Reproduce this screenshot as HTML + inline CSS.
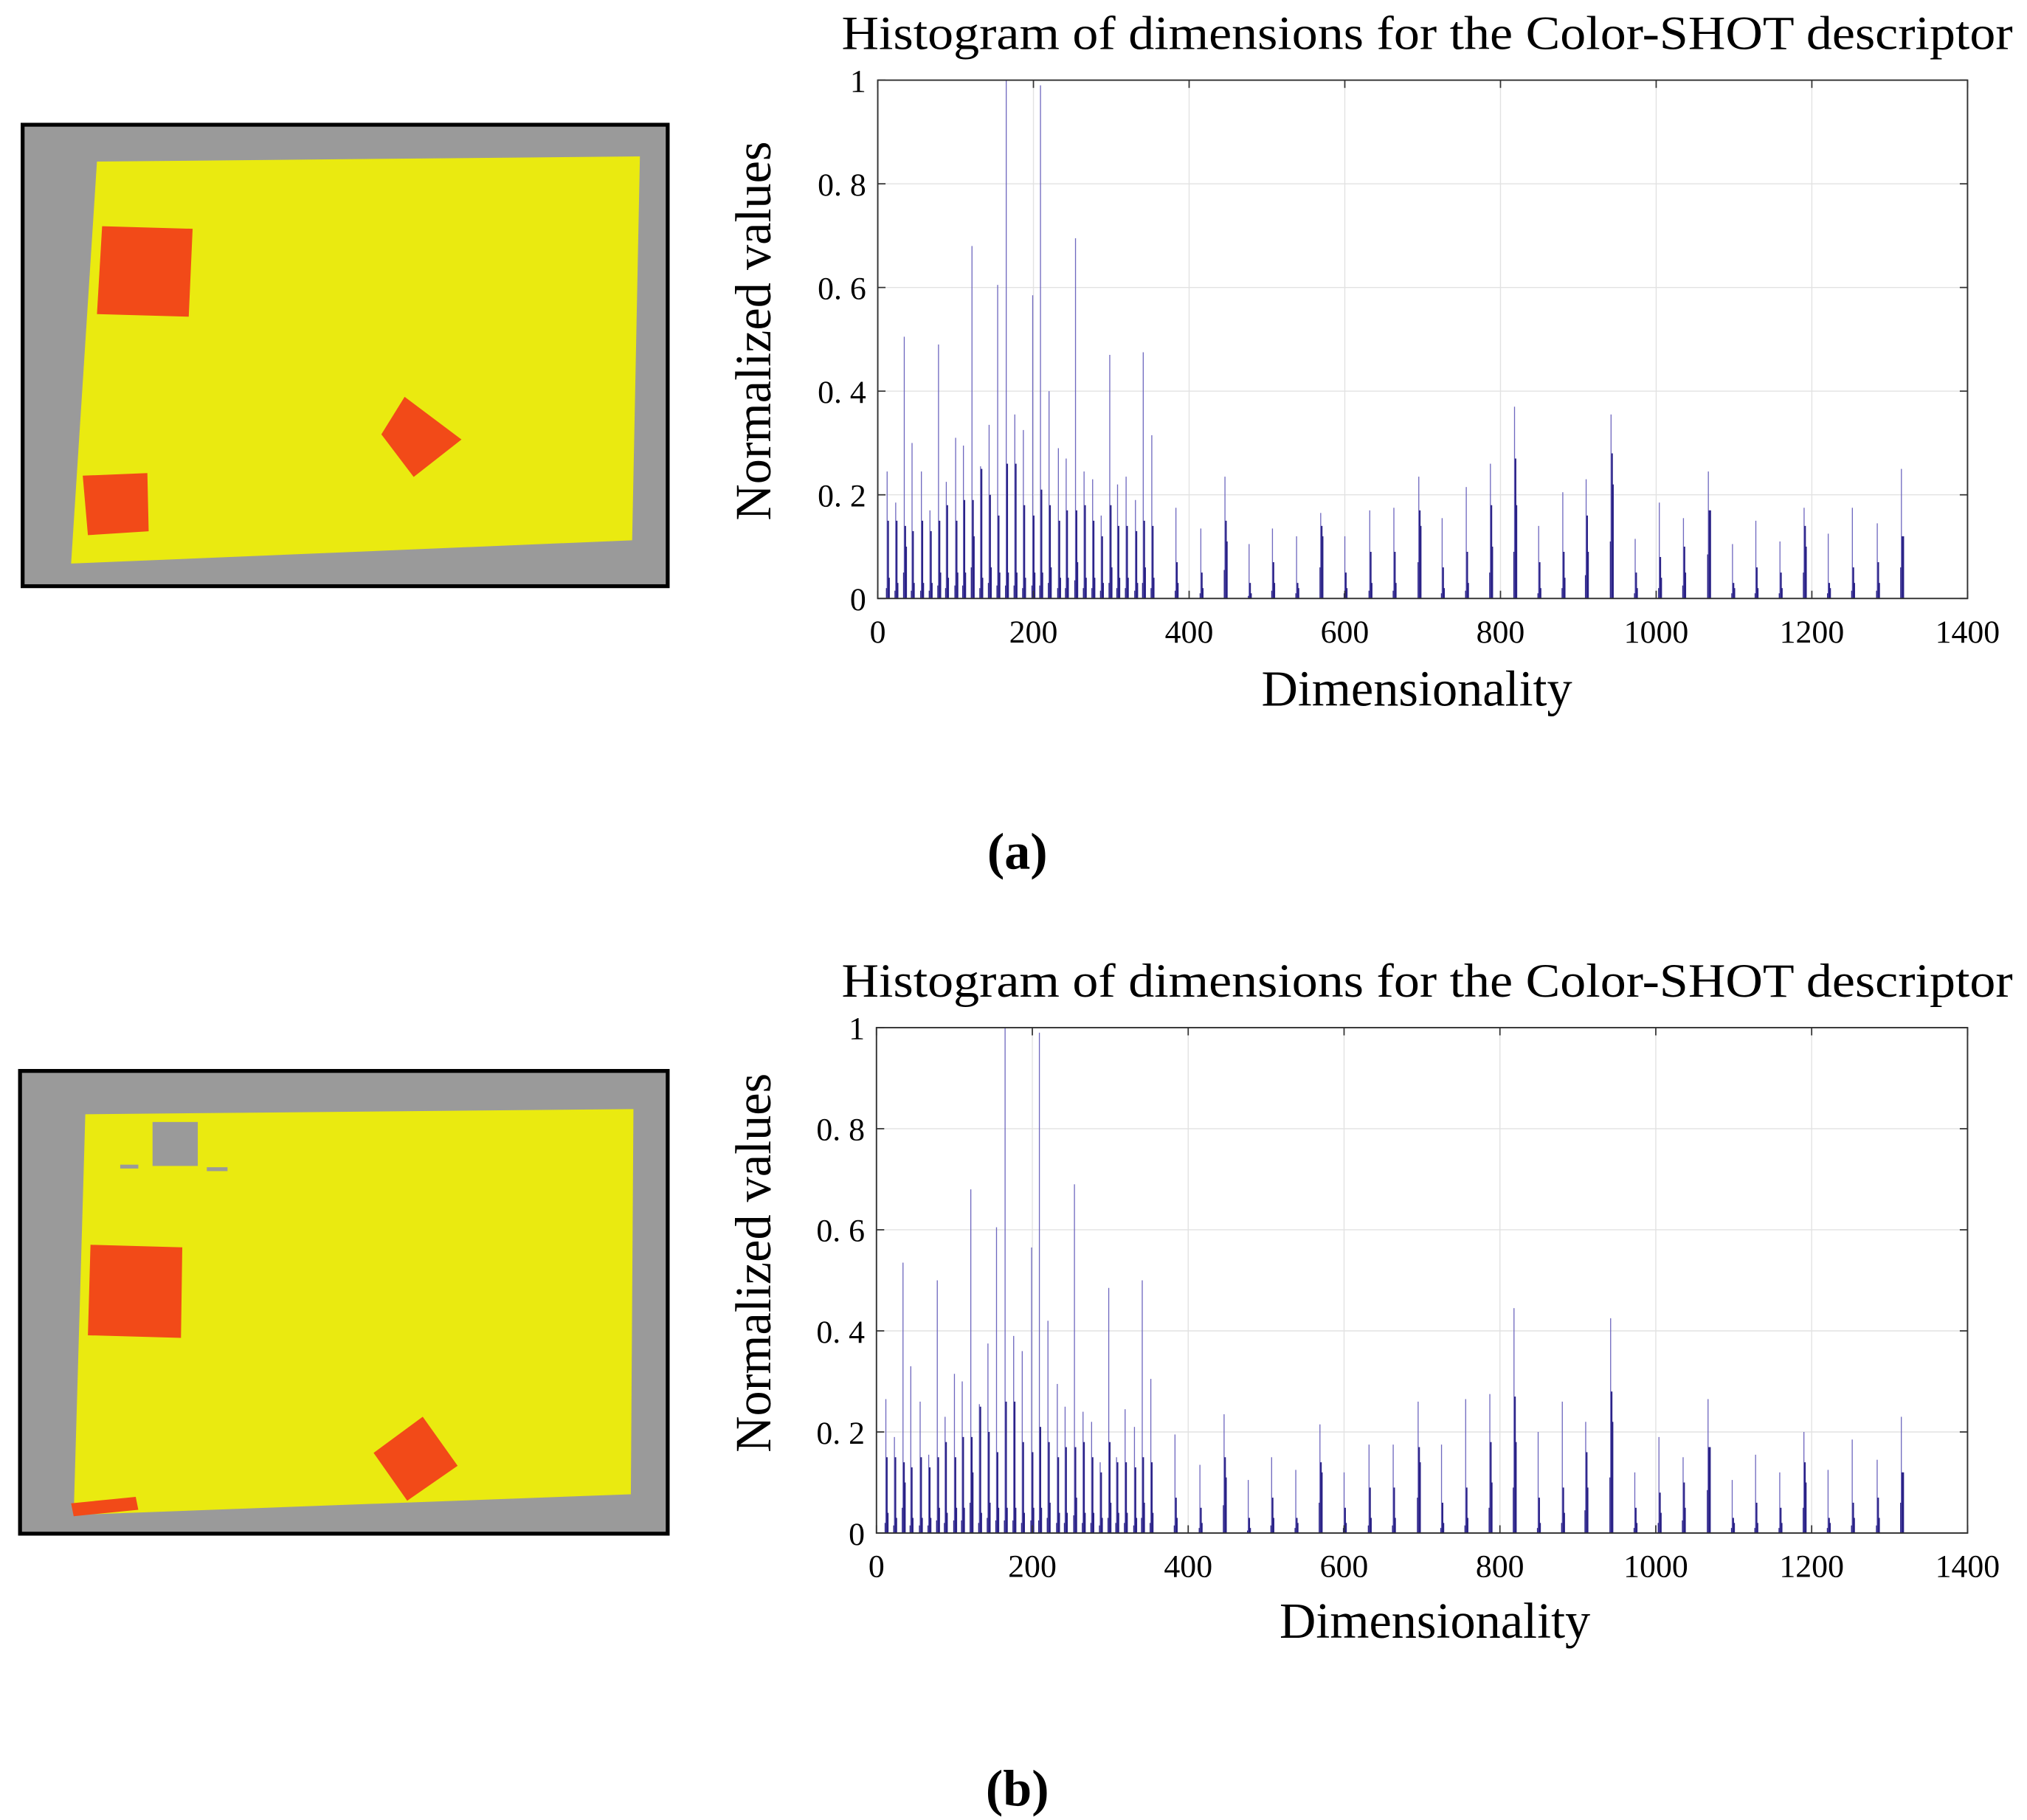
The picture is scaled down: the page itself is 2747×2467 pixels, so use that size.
<!DOCTYPE html>
<html><head><meta charset="utf-8">
<style>
html,body{margin:0;padding:0;background:#fff;}
svg{display:block;}
text{font-family:"Liberation Serif","Noto Serif CJK SC",serif;fill:#000;}
</style></head>
<body>
<svg id="fig" width="2747" height="2467" viewBox="0 0 1568 1408" preserveAspectRatio="none">
  <g>
    <rect x="17.5" y="96.5" width="499" height="357" fill="#9a9a9a" stroke="#000" stroke-width="3"/>
    <polygon points="75,125 495,121 489,418 55,436" fill="#eaea10"/>
    <polygon points="79,175 149,177 146,245 75,243" fill="#f24a18"/>
    <polygon points="313,307 357,340 320,369 295,336" fill="#f24a18"/>
    <polygon points="64,368 114,366 115,411 68,414" fill="#f24a18"/>
  </g>
  <g>
    <rect x="15.5" y="828.5" width="501" height="358" fill="#9a9a9a" stroke="#000" stroke-width="3"/>
    <polygon points="66,862 490,858 488,1156 57,1172" fill="#eaea10"/>
    <rect x="118" y="868" width="35" height="34" fill="#9a9a9a"/>
    <rect x="93" y="901" width="14" height="3" fill="#9a9a9a"/>
    <rect x="160" y="903" width="16" height="3" fill="#9a9a9a"/>
    <polygon points="70,963 141,965 140,1035 68,1033" fill="#f24a18"/>
    <polygon points="327,1096 354,1134 315,1161 289,1124" fill="#f24a18"/>
    <polygon points="55,1163 105,1158 107,1168 57,1173" fill="#f24a18"/>
  </g>
  <g id="chartA"></g>
  <g id="chartB"></g>
  <text x="787" y="672" font-size="40" font-weight="bold" text-anchor="middle">(a)</text>
  <text x="787" y="1397" font-size="40" font-weight="bold" text-anchor="middle">(b)</text>
</svg>
<script>
const xTicks = [0,200,400,600,800,1000,1200,1400];
const yTicks = [0,0.2,0.4,0.6,0.8,1];
const yTickLabels = ["0","0. 2","0. 4","0. 6","0. 8","1"];
const peakDims = [12,23,34,44,56,67,78,88,100,110,121,132,143,154,165,176,187,199,209,220,232,242,254,265,276,287,298,308,319,331,341,352,
  383,415,446,477,507,538,569,600,632,663,695,725,756,787,818,849,880,910,942,973,1004,1035,1067,1098,1128,1159,1190,1221,1252,1284,1315];
const peaksA = [0.245,0.185,0.505,0.30,0.245,0.17,0.49,0.225,0.31,0.295,0.68,0.255,0.335,0.605,1.0,0.355,0.325,0.585,0.99,0.40,0.29,0.27,0.695,0.245,0.23,0.16,0.47,0.22,0.235,0.19,0.475,0.315,
  0.175,0.135,0.235,0.105,0.135,0.12,0.165,0.12,0.17,0.175,0.235,0.155,0.215,0.26,0.37,0.14,0.205,0.23,0.355,0.115,0.185,0.155,0.245,0.105,0.15,0.11,0.175,0.125,0.175,0.145,0.25];
const sec1A = [0.15,0.15,0.14,0.13,0.15,0.13,0.15,0.18,0.15,0.19,0.19,0.25,0.20,0.16,0.26,0.26,0.18,0.16,0.21,0.18,0.15,0.17,0.17,0.18,0.15,0.12,0.18,0.14,0.14,0.13,0.15,0.14,
  0.07,0.05,0.15,0.03,0.07,0.03,0.14,0.05,0.09,0.09,0.17,0.06,0.09,0.18,0.27,0.07,0.09,0.16,0.28,0.05,0.08,0.10,0.17,0.03,0.06,0.05,0.14,0.03,0.06,0.07,0.12];
const sec2A = [0.04,0.03,0.10,0.03,0.03,0.03,0.05,0.04,0.05,0.05,0.12,0.04,0.06,0.05,0.05,0.05,0.04,0.05,0.05,0.06,0.04,0.04,0.07,0.04,0.04,0.03,0.06,0.04,0.04,0.03,0.06,0.04,
  0.03,0.02,0.11,0.01,0.03,0.02,0.12,0.02,0.03,0.03,0.14,0.02,0.03,0.10,0.18,0.02,0.04,0.09,0.22,0.02,0.04,0.05,0.17,0.02,0.02,0.02,0.10,0.02,0.03,0.03,0.12];
const peaksB = [0.265,0.19,0.535,0.33,0.26,0.155,0.50,0.23,0.315,0.30,0.68,0.255,0.375,0.605,1.0,0.39,0.36,0.565,0.99,0.42,0.295,0.25,0.69,0.24,0.22,0.14,0.485,0.15,0.245,0.21,0.50,0.305,
  0.195,0.135,0.235,0.105,0.15,0.125,0.215,0.12,0.175,0.175,0.26,0.175,0.265,0.275,0.445,0.20,0.26,0.22,0.425,0.12,0.19,0.15,0.265,0.105,0.155,0.12,0.20,0.125,0.185,0.145,0.23];
const sec1B = [0.15,0.15,0.14,0.13,0.15,0.13,0.15,0.18,0.15,0.19,0.19,0.25,0.20,0.16,0.26,0.26,0.18,0.16,0.21,0.18,0.15,0.17,0.17,0.18,0.15,0.12,0.18,0.14,0.14,0.13,0.15,0.14,
  0.07,0.05,0.15,0.03,0.07,0.03,0.14,0.05,0.09,0.09,0.17,0.06,0.09,0.18,0.27,0.07,0.09,0.16,0.28,0.05,0.08,0.10,0.17,0.03,0.06,0.05,0.14,0.03,0.06,0.07,0.12];
const sec2B = [0.04,0.03,0.10,0.03,0.03,0.03,0.05,0.04,0.05,0.05,0.12,0.04,0.06,0.05,0.05,0.05,0.04,0.05,0.05,0.06,0.04,0.04,0.07,0.04,0.04,0.03,0.06,0.04,0.04,0.03,0.06,0.04,
  0.03,0.02,0.11,0.01,0.03,0.02,0.12,0.02,0.03,0.03,0.14,0.02,0.03,0.10,0.18,0.02,0.04,0.09,0.22,0.02,0.04,0.05,0.17,0.02,0.02,0.02,0.10,0.02,0.03,0.03,0.12];

const NS = "http://www.w3.org/2000/svg";
function mk(tag, attrs, parent){ const e=document.createElementNS(NS,tag); for(const k in attrs) e.setAttribute(k,attrs[k]); parent.appendChild(e); return e; }

function drawChart(g, L, T, R, B, peaks, s1, s2, titleY, xlabX, xlabY, ylabY){
  const xS = d => L + (d/1400)*(R-L);
  const yS = v => B - v*(B-T);
  xTicks.forEach(t=>{ if(t>0&&t<1400){ const l=mk('line',{x1:xS(t),x2:xS(t),y1:T,y2:B,stroke:'#e2e2e2','stroke-width':0.8},g);
      }});
  yTicks.forEach(t=>{ if(t>0&&t<1){ const l=mk('line',{x1:L,x2:R,y1:yS(t),y2:yS(t),stroke:'#e2e2e2','stroke-width':0.8},g);
      }});
  peakDims.forEach((d,i)=>{
    const b1=mk('rect',{x:xS(d)-0.35,y:yS(peaks[i]),width:0.75,height:B-yS(peaks[i]),fill:'#6f68bf'},g);
     
    const b2=mk('rect',{x:xS(d+1)-0.4,y:yS(s1[i]),width:1.2,height:B-yS(s1[i]),fill:'#2a2286'},g);
     
    const b3=mk('rect',{x:xS(d+2)-0.3,y:yS(s2[i]),width:1.2,height:B-yS(s2[i]),fill:'#2a2286'},g);
     
    const b4=mk('rect',{x:xS(d-1)-0.3,y:yS(s2[i]*0.5),width:0.8,height:B-yS(s2[i]*0.5),fill:'#2a2286'},g);
     
  });
  const box=mk('rect',{x:L,y:T,width:R-L,height:B-T,fill:'none',stroke:'#333','stroke-width':1.1},g);
   
  xTicks.forEach(t=>{
    mk('line',{x1:xS(t),x2:xS(t),y1:B,y2:B-6,stroke:'#333','stroke-width':1},g);
    mk('line',{x1:xS(t),x2:xS(t),y1:T,y2:T+6,stroke:'#333','stroke-width':1},g);
    const tx=mk('text',{x:xS(t),y:B+34,'font-size':25,'text-anchor':'middle'},g);
    tx.textContent=String(t);
     
  });
  yTicks.forEach((t,i)=>{
    mk('line',{x1:L,x2:L+6,y1:yS(t),y2:yS(t),stroke:'#333','stroke-width':1},g);
    mk('line',{x1:R,x2:R-6,y1:yS(t),y2:yS(t),stroke:'#333','stroke-width':1},g);
    const ty=mk('text',{x:L-9,y:yS(t)+9,'font-size':25,'text-anchor':'end'},g);
    ty.textContent=yTickLabels[i];
     
  });
  const ti=mk('text',{x:651,y:titleY,'font-size':37,textLength:906,lengthAdjust:'spacingAndGlyphs'},g);
  ti.textContent='Histogram of dimensions for the Color-SHOT descriptor';
   
  const xl=mk('text',{x:xlabX,y:xlabY,'font-size':39,'text-anchor':'middle'},g);
  xl.textContent='Dimensionality';
   
  const yl=mk('text',{x:0,y:0,'font-size':39,'text-anchor':'middle',transform:`translate(596,${ylabY}) rotate(-90)`},g);
  yl.textContent='Normalized values';
   
}
drawChart(document.getElementById('chartA'),679,62,1522,463,peaksA,sec1A,sec2A,38,1096,546,256);
drawChart(document.getElementById('chartB'),678,795,1522,1186,peaksB,sec1B,sec2B,771,1110,1267,977);
</script>
</body></html>
